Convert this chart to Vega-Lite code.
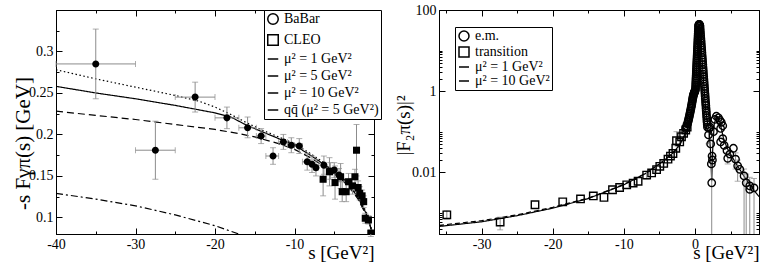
{
  "$schema": "https://vega.github.io/schema/vega-lite/v6.json",
  "background": "white",
  "padding": {"left": 11, "top": 2, "right": 2, "bottom": 0},
  "config": {
    "font": "Liberation Serif",
    "view": {"stroke": "black", "strokeWidth": 1},
    "axis": {"domainColor": "black", "tickColor": "black", "labelColor": "black", "titleColor": "black", "labelFont": "Liberation Serif", "titleFont": "Liberation Serif", "labelFontSize": 14, "titleFontSize": 20, "titleFontWeight": "normal", "grid": false, "labelPadding": 9, "labelFlush": false, "labelOverlap": false},
    "legend": {"labelFont": "Liberation Serif", "labelFontSize": 14, "labelColor": "black", "strokeColor": "black", "fillColor": "white", "padding": 2, "rowPadding": 2, "labelOffset": 4}
  },
  "resolve": {"scale": {"shape": "independent", "strokeDash": "independent", "x": "independent", "y": "independent"}, "legend": {"shape": "independent", "strokeDash": "independent"}},
  "datasets": {
    "left_lines": [
      {"series": "μ² = 1 GeV²", "s": -40, "v": 0.228}, {"series": "μ² = 1 GeV²", "s": -35, "v": 0.223}, {"series": "μ² = 1 GeV²", "s": -30, "v": 0.218}, {"series": "μ² = 1 GeV²", "s": -25, "v": 0.212}, {"series": "μ² = 1 GeV²", "s": -20, "v": 0.206}, {"series": "μ² = 1 GeV²", "s": -17, "v": 0.201}, {"series": "μ² = 1 GeV²", "s": -15, "v": 0.197}, {"series": "μ² = 1 GeV²", "s": -12, "v": 0.189}, {"series": "μ² = 1 GeV²", "s": -10, "v": 0.182}, {"series": "μ² = 1 GeV²", "s": -8, "v": 0.172}, {"series": "μ² = 1 GeV²", "s": -6, "v": 0.16}, {"series": "μ² = 1 GeV²", "s": -4, "v": 0.145}, {"series": "μ² = 1 GeV²", "s": -3, "v": 0.135}, {"series": "μ² = 1 GeV²", "s": -2, "v": 0.122}, {"series": "μ² = 1 GeV²", "s": -1, "v": 0.103}, {"series": "μ² = 1 GeV²", "s": -0.5, "v": 0.09}, {"series": "μ² = 1 GeV²", "s": -0.2, "v": 0.079},
      {"series": "μ² = 5 GeV²", "s": -40, "v": 0.258}, {"series": "μ² = 5 GeV²", "s": -35, "v": 0.25}, {"series": "μ² = 5 GeV²", "s": -30, "v": 0.243}, {"series": "μ² = 5 GeV²", "s": -25, "v": 0.235}, {"series": "μ² = 5 GeV²", "s": -20, "v": 0.226}, {"series": "μ² = 5 GeV²", "s": -18, "v": 0.221}, {"series": "μ² = 5 GeV²", "s": -16, "v": 0.211}, {"series": "μ² = 5 GeV²", "s": -14, "v": 0.203}, {"series": "μ² = 5 GeV²", "s": -12, "v": 0.195}, {"series": "μ² = 5 GeV²", "s": -10, "v": 0.187}, {"series": "μ² = 5 GeV²", "s": -8, "v": 0.175}, {"series": "μ² = 5 GeV²", "s": -6, "v": 0.162}, {"series": "μ² = 5 GeV²", "s": -4, "v": 0.147}, {"series": "μ² = 5 GeV²", "s": -3, "v": 0.137}, {"series": "μ² = 5 GeV²", "s": -2, "v": 0.124}, {"series": "μ² = 5 GeV²", "s": -1, "v": 0.105}, {"series": "μ² = 5 GeV²", "s": -0.5, "v": 0.091}, {"series": "μ² = 5 GeV²", "s": -0.15, "v": 0.079},
      {"series": "μ² = 10 GeV²", "s": -40, "v": 0.278}, {"series": "μ² = 10 GeV²", "s": -35, "v": 0.267}, {"series": "μ² = 10 GeV²", "s": -30, "v": 0.257}, {"series": "μ² = 10 GeV²", "s": -25, "v": 0.247}, {"series": "μ² = 10 GeV²", "s": -22, "v": 0.24}, {"series": "μ² = 10 GeV²", "s": -20, "v": 0.233}, {"series": "μ² = 10 GeV²", "s": -18, "v": 0.224}, {"series": "μ² = 10 GeV²", "s": -16, "v": 0.214}, {"series": "μ² = 10 GeV²", "s": -14, "v": 0.205}, {"series": "μ² = 10 GeV²", "s": -12, "v": 0.197}, {"series": "μ² = 10 GeV²", "s": -10, "v": 0.189}, {"series": "μ² = 10 GeV²", "s": -8, "v": 0.177}, {"series": "μ² = 10 GeV²", "s": -6, "v": 0.164}, {"series": "μ² = 10 GeV²", "s": -4, "v": 0.149}, {"series": "μ² = 10 GeV²", "s": -3, "v": 0.139}, {"series": "μ² = 10 GeV²", "s": -2, "v": 0.126}, {"series": "μ² = 10 GeV²", "s": -1, "v": 0.107}, {"series": "μ² = 10 GeV²", "s": -0.5, "v": 0.092}, {"series": "μ² = 10 GeV²", "s": -0.1, "v": 0.079},
      {"series": "qq̄ (μ² = 5 GeV²)", "s": -40, "v": 0.129}, {"series": "qq̄ (μ² = 5 GeV²)", "s": -35, "v": 0.122}, {"series": "qq̄ (μ² = 5 GeV²)", "s": -30, "v": 0.114}, {"series": "qq̄ (μ² = 5 GeV²)", "s": -25, "v": 0.103}, {"series": "qq̄ (μ² = 5 GeV²)", "s": -20, "v": 0.09}, {"series": "qq̄ (μ² = 5 GeV²)", "s": -17, "v": 0.08}
    ],
    "left_pts": [
      {"series": "BaBar", "s": -35, "v": 0.285, "ylo": 0.243, "yhi": 0.327, "xlo": -40, "xhi": -30},
      {"series": "BaBar", "s": -27.5, "v": 0.181, "ylo": 0.146, "yhi": 0.216, "xlo": -30, "xhi": -25},
      {"series": "BaBar", "s": -22.5, "v": 0.245, "ylo": 0.227, "yhi": 0.263, "xlo": -25, "xhi": -20},
      {"series": "BaBar", "s": -18.5, "v": 0.22, "ylo": 0.207, "yhi": 0.233, "xlo": -20, "xhi": -17},
      {"series": "BaBar", "s": -15.9, "v": 0.208, "ylo": 0.196, "yhi": 0.221, "xlo": -17, "xhi": -14.8},
      {"series": "BaBar", "s": -14.2, "v": 0.198, "ylo": 0.189, "yhi": 0.207, "xlo": -14.8, "xhi": -13.6},
      {"series": "BaBar", "s": -12.7, "v": 0.174, "ylo": 0.164, "yhi": 0.184, "xlo": -13.6, "xhi": -12},
      {"series": "BaBar", "s": -11.4, "v": 0.191, "ylo": 0.182, "yhi": 0.2, "xlo": -12, "xhi": -10.9},
      {"series": "BaBar", "s": -10.4, "v": 0.187, "ylo": 0.178, "yhi": 0.196, "xlo": -10.9, "xhi": -10},
      {"series": "BaBar", "s": -9.4, "v": 0.186, "ylo": 0.177, "yhi": 0.195, "xlo": -10, "xhi": -9},
      {"series": "BaBar", "s": -8.4, "v": 0.167, "ylo": 0.157, "yhi": 0.177, "xlo": -9, "xhi": -8},
      {"series": "BaBar", "s": -7.8, "v": 0.164, "ylo": 0.154, "yhi": 0.174, "xlo": -8, "xhi": -7.6},
      {"series": "BaBar", "s": -7.3, "v": 0.16, "ylo": 0.15, "yhi": 0.17, "xlo": -7.6, "xhi": -7},
      {"series": "BaBar", "s": -6.3, "v": 0.163, "ylo": 0.152, "yhi": 0.174, "xlo": -7, "xhi": -6},
      {"series": "BaBar", "s": -5.5, "v": 0.156, "ylo": 0.146, "yhi": 0.166, "xlo": -6, "xhi": -5.2},
      {"series": "BaBar", "s": -5.0, "v": 0.157, "ylo": 0.148, "yhi": 0.166, "xlo": -5.2, "xhi": -4.7},
      {"series": "BaBar", "s": -4.4, "v": 0.151, "ylo": 0.143, "yhi": 0.159, "xlo": -4.7, "xhi": -4.2},
      {"series": "CLEO", "s": -6.4, "v": 0.146, "ylo": 0.126, "yhi": 0.165},
      {"series": "CLEO", "s": -5.6, "v": 0.155, "ylo": 0.138, "yhi": 0.172},
      {"series": "CLEO", "s": -4.9, "v": 0.142, "ylo": 0.122, "yhi": 0.162},
      {"series": "CLEO", "s": -4.2, "v": 0.149, "ylo": 0.135, "yhi": 0.165},
      {"series": "CLEO", "s": -4.0, "v": 0.131, "ylo": 0.119, "yhi": 0.143},
      {"series": "CLEO", "s": -3.5, "v": 0.131, "ylo": 0.119, "yhi": 0.144},
      {"series": "CLEO", "s": -3.2, "v": 0.143, "ylo": 0.133, "yhi": 0.153},
      {"series": "CLEO", "s": -2.7, "v": 0.138, "ylo": 0.128, "yhi": 0.147},
      {"series": "CLEO", "s": -2.4, "v": 0.149, "ylo": 0.14, "yhi": 0.158},
      {"series": "CLEO", "s": -2.2, "v": 0.181, "ylo": 0.15, "yhi": 0.212},
      {"series": "CLEO", "s": -2.0, "v": 0.136, "ylo": 0.128, "yhi": 0.144},
      {"series": "CLEO", "s": -1.8, "v": 0.129, "ylo": 0.121, "yhi": 0.137},
      {"series": "CLEO", "s": -1.5, "v": 0.126, "ylo": 0.119, "yhi": 0.133},
      {"series": "CLEO", "s": -1.3, "v": 0.119, "ylo": 0.112, "yhi": 0.126},
      {"series": "CLEO", "s": -1.1, "v": 0.099, "ylo": 0.093, "yhi": 0.105},
      {"series": "CLEO", "s": -0.7, "v": 0.097, "ylo": 0.092, "yhi": 0.102},
      {"series": "CLEO", "s": -0.4, "v": 0.081, "ylo": 0.077, "yhi": 0.085}
    ],
    "right_lines": [
      {"series": "μ² = 1 GeV²", "s": -36, "v": 0.00046}, {"series": "μ² = 1 GeV²", "s": -30, "v": 0.0006}, {"series": "μ² = 1 GeV²", "s": -25, "v": 0.00085}, {"series": "μ² = 1 GeV²", "s": -20, "v": 0.0013}, {"series": "μ² = 1 GeV²", "s": -15, "v": 0.00225}, {"series": "μ² = 1 GeV²", "s": -10, "v": 0.0049}, {"series": "μ² = 1 GeV²", "s": -7, "v": 0.0092}, {"series": "μ² = 1 GeV²", "s": -4.5, "v": 0.0185}, {"series": "μ² = 1 GeV²", "s": -3, "v": 0.031}, {"series": "μ² = 1 GeV²", "s": -2, "v": 0.052}, {"series": "μ² = 1 GeV²", "s": -1, "v": 0.125}, {"series": "μ² = 1 GeV²", "s": -0.5, "v": 0.3}, {"series": "μ² = 1 GeV²", "s": 0, "v": 0.95}, {"series": "μ² = 1 GeV²", "s": 0.1, "v": 1.4}, {"series": "μ² = 1 GeV²", "s": 0.2, "v": 3}, {"series": "μ² = 1 GeV²", "s": 0.3, "v": 7}, {"series": "μ² = 1 GeV²", "s": 0.4, "v": 15}, {"series": "μ² = 1 GeV²", "s": 0.5, "v": 32}, {"series": "μ² = 1 GeV²", "s": 0.6, "v": 45}, {"series": "μ² = 1 GeV²", "s": 0.7, "v": 35}, {"series": "μ² = 1 GeV²", "s": 0.8, "v": 20}, {"series": "μ² = 1 GeV²", "s": 1.0, "v": 6}, {"series": "μ² = 1 GeV²", "s": 1.2, "v": 1.8}, {"series": "μ² = 1 GeV²", "s": 1.5, "v": 0.35}, {"series": "μ² = 1 GeV²", "s": 1.8, "v": 0.15}, {"series": "μ² = 1 GeV²", "s": 2.0, "v": 0.1}, {"series": "μ² = 1 GeV²", "s": 2.2, "v": 0.03}, {"series": "μ² = 1 GeV²", "s": 2.35, "v": 0.006}, {"series": "μ² = 1 GeV²", "s": 2.5, "v": 0.04}, {"series": "μ² = 1 GeV²", "s": 2.7, "v": 0.15}, {"series": "μ² = 1 GeV²", "s": 3.0, "v": 0.24}, {"series": "μ² = 1 GeV²", "s": 3.5, "v": 0.17}, {"series": "μ² = 1 GeV²", "s": 4.0, "v": 0.07}, {"series": "μ² = 1 GeV²", "s": 4.5, "v": 0.04}, {"series": "μ² = 1 GeV²", "s": 5.0, "v": 0.028}, {"series": "μ² = 1 GeV²", "s": 6.0, "v": 0.014}, {"series": "μ² = 1 GeV²", "s": 7.0, "v": 0.0075}, {"series": "μ² = 1 GeV²", "s": 8.0, "v": 0.0042}, {"series": "μ² = 1 GeV²", "s": 9.0, "v": 0.0025},
      {"series": "μ² = 10 GeV²", "s": -36, "v": 0.00049}, {"series": "μ² = 10 GeV²", "s": -30, "v": 0.00064}, {"series": "μ² = 10 GeV²", "s": -25, "v": 0.00089}, {"series": "μ² = 10 GeV²", "s": -20, "v": 0.00136}, {"series": "μ² = 10 GeV²", "s": -15, "v": 0.0023}, {"series": "μ² = 10 GeV²", "s": -10, "v": 0.005}, {"series": "μ² = 10 GeV²", "s": -7, "v": 0.0093}, {"series": "μ² = 10 GeV²", "s": -4.5, "v": 0.0187}, {"series": "μ² = 10 GeV²", "s": -3, "v": 0.031}, {"series": "μ² = 10 GeV²", "s": -2, "v": 0.052}, {"series": "μ² = 10 GeV²", "s": -1, "v": 0.125}, {"series": "μ² = 10 GeV²", "s": -0.5, "v": 0.3}, {"series": "μ² = 10 GeV²", "s": 0, "v": 0.95}
    ],
    "right_pts": [
      {"series": "transition", "s": -34.9, "v": 0.00089, "ylo": 0.0007, "yhi": 0.00112},
      {"series": "transition", "s": -27.4, "v": 0.00059, "ylo": 0.00038, "yhi": 0.00078},
      {"series": "transition", "s": -22.5, "v": 0.00158},
      {"series": "transition", "s": -18.6, "v": 0.00186},
      {"series": "transition", "s": -16.1, "v": 0.0022},
      {"series": "transition", "s": -14.3, "v": 0.0026},
      {"series": "transition", "s": -12.8, "v": 0.0024},
      {"series": "transition", "s": -11.6, "v": 0.0037},
      {"series": "transition", "s": -10.6, "v": 0.0042},
      {"series": "transition", "s": -9.6, "v": 0.0049},
      {"series": "transition", "s": -8.7, "v": 0.0054},
      {"series": "transition", "s": -8.0, "v": 0.006},
      {"series": "transition", "s": -6.8, "v": 0.0085, "ylo": 0.0068, "yhi": 0.0105},
      {"series": "transition", "s": -6.1, "v": 0.0096},
      {"series": "transition", "s": -5.4, "v": 0.0116, "ylo": 0.0095, "yhi": 0.014},
      {"series": "transition", "s": -4.95, "v": 0.014},
      {"series": "transition", "s": -4.4, "v": 0.0165, "ylo": 0.0135, "yhi": 0.02},
      {"series": "transition", "s": -3.8, "v": 0.021},
      {"series": "transition", "s": -3.45, "v": 0.025},
      {"series": "transition", "s": -3.1, "v": 0.029},
      {"series": "transition", "s": -2.7, "v": 0.039},
      {"series": "transition", "s": -2.6, "v": 0.06, "ylo": 0.045, "yhi": 0.1},
      {"series": "transition", "s": -2.15, "v": 0.056},
      {"series": "transition", "s": -1.9, "v": 0.075},
      {"series": "transition", "s": -1.6, "v": 0.091},
      {"series": "transition", "s": -1.3, "v": 0.11},
      {"series": "transition", "s": -1.1, "v": 0.13},
      {"series": "e.m.", "s": -1.3, "v": 0.12}, {"series": "e.m.", "s": -1.22, "v": 0.13}, {"series": "e.m.", "s": -1.15, "v": 0.14}, {"series": "e.m.", "s": -1.07, "v": 0.155}, {"series": "e.m.", "s": -1.0, "v": 0.17}, {"series": "e.m.", "s": -0.95, "v": 0.185}, {"series": "e.m.", "s": -0.9, "v": 0.2}, {"series": "e.m.", "s": -0.85, "v": 0.22}, {"series": "e.m.", "s": -0.8, "v": 0.24}, {"series": "e.m.", "s": -0.75, "v": 0.265}, {"series": "e.m.", "s": -0.7, "v": 0.29}, {"series": "e.m.", "s": -0.65, "v": 0.32}, {"series": "e.m.", "s": -0.6, "v": 0.35}, {"series": "e.m.", "s": -0.55, "v": 0.39}, {"series": "e.m.", "s": -0.5, "v": 0.43}, {"series": "e.m.", "s": -0.46, "v": 0.47}, {"series": "e.m.", "s": -0.42, "v": 0.52}, {"series": "e.m.", "s": -0.38, "v": 0.57}, {"series": "e.m.", "s": -0.35, "v": 0.62}, {"series": "e.m.", "s": -0.31, "v": 0.67}, {"series": "e.m.", "s": -0.28, "v": 0.72}, {"series": "e.m.", "s": -0.24, "v": 0.77}, {"series": "e.m.", "s": -0.2, "v": 0.82}, {"series": "e.m.", "s": -0.16, "v": 0.86}, {"series": "e.m.", "s": -0.12, "v": 0.9}, {"series": "e.m.", "s": -0.08, "v": 0.94}, {"series": "e.m.", "s": -0.05, "v": 0.97}, {"series": "e.m.", "s": 0.0, "v": 1.0}, {"series": "e.m.", "s": 0.04, "v": 1.07},
      {"series": "e.m.", "s": 0.075, "v": 1.15}, {"series": "e.m.", "s": 0.0875, "v": 1.28}, {"series": "e.m.", "s": 0.1, "v": 1.42}, {"series": "e.m.", "s": 0.1125, "v": 1.58}, {"series": "e.m.", "s": 0.125, "v": 1.75}, {"series": "e.m.", "s": 0.1375, "v": 1.94}, {"series": "e.m.", "s": 0.15, "v": 2.15}, {"series": "e.m.", "s": 0.1625, "v": 2.39}, {"series": "e.m.", "s": 0.175, "v": 2.65}, {"series": "e.m.", "s": 0.1875, "v": 2.94}, {"series": "e.m.", "s": 0.2, "v": 3.25}, {"series": "e.m.", "s": 0.2125, "v": 3.6}, {"series": "e.m.", "s": 0.225, "v": 4.0}, {"series": "e.m.", "s": 0.2375, "v": 4.43}, {"series": "e.m.", "s": 0.25, "v": 4.9}, {"series": "e.m.", "s": 0.2625, "v": 5.43}, {"series": "e.m.", "s": 0.275, "v": 6.0}, {"series": "e.m.", "s": 0.2875, "v": 6.66}, {"series": "e.m.", "s": 0.3, "v": 7.4}, {"series": "e.m.", "s": 0.3125, "v": 8.2}, {"series": "e.m.", "s": 0.325, "v": 9.1}, {"series": "e.m.", "s": 0.3375, "v": 10.1}, {"series": "e.m.", "s": 0.35, "v": 11.2}, {"series": "e.m.", "s": 0.3625, "v": 12.4}, {"series": "e.m.", "s": 0.375, "v": 13.8}, {"series": "e.m.", "s": 0.3875, "v": 15.3}, {"series": "e.m.", "s": 0.4, "v": 17}, {"series": "e.m.", "s": 0.4125, "v": 18.9}, {"series": "e.m.", "s": 0.425, "v": 21}, {"series": "e.m.", "s": 0.4375, "v": 23.4}, {"series": "e.m.", "s": 0.45, "v": 26}, {"series": "e.m.", "s": 0.4625, "v": 28.9}, {"series": "e.m.", "s": 0.475, "v": 32}, {"series": "e.m.", "s": 0.4875, "v": 35.3}, {"series": "e.m.", "s": 0.5, "v": 39}, {"series": "e.m.", "s": 0.525, "v": 41.5}, {"series": "e.m.", "s": 0.55, "v": 43}, {"series": "e.m.", "s": 0.575, "v": 44}, {"series": "e.m.", "s": 0.6, "v": 44}, {"series": "e.m.", "s": 0.625, "v": 43}, {"series": "e.m.", "s": 0.65, "v": 42}, {"series": "e.m.", "s": 0.675, "v": 41},
      {"series": "e.m.", "s": 0.7, "v": 40}, {"series": "e.m.", "s": 0.725, "v": 35}, {"series": "e.m.", "s": 0.75, "v": 30.4}, {"series": "e.m.", "s": 0.775, "v": 26.5}, {"series": "e.m.", "s": 0.8, "v": 23}, {"series": "e.m.", "s": 0.825, "v": 20.1}, {"series": "e.m.", "s": 0.85, "v": 17.6}, {"series": "e.m.", "s": 0.875, "v": 15.4}, {"series": "e.m.", "s": 0.9, "v": 13.4}, {"series": "e.m.", "s": 0.925, "v": 11.7}, {"series": "e.m.", "s": 0.95, "v": 10.2}, {"series": "e.m.", "s": 0.975, "v": 8.9}, {"series": "e.m.", "s": 1.0, "v": 7.7}, {"series": "e.m.", "s": 1.025, "v": 6.7}, {"series": "e.m.", "s": 1.05, "v": 5.9}, {"series": "e.m.", "s": 1.075, "v": 5.2}, {"series": "e.m.", "s": 1.1, "v": 4.5}, {"series": "e.m.", "s": 1.125, "v": 3.9}, {"series": "e.m.", "s": 1.15, "v": 3.4}, {"series": "e.m.", "s": 1.175, "v": 3.0}, {"series": "e.m.", "s": 1.2, "v": 2.6}, {"series": "e.m.", "s": 1.225, "v": 2.26}, {"series": "e.m.", "s": 1.25, "v": 1.97}, {"series": "e.m.", "s": 1.275, "v": 1.72}, {"series": "e.m.", "s": 1.3, "v": 1.5}, {"series": "e.m.", "s": 1.325, "v": 1.31}, {"series": "e.m.", "s": 1.35, "v": 1.14}, {"series": "e.m.", "s": 1.375, "v": 1.0}, {"series": "e.m.", "s": 1.4, "v": 0.87}, {"series": "e.m.", "s": 1.425, "v": 0.76}, {"series": "e.m.", "s": 1.45, "v": 0.66}, {"series": "e.m.", "s": 1.475, "v": 0.57}, {"series": "e.m.", "s": 1.5, "v": 0.5}, {"series": "e.m.", "s": 1.525, "v": 0.44}, {"series": "e.m.", "s": 1.55, "v": 0.38}, {"series": "e.m.", "s": 1.575, "v": 0.33}, {"series": "e.m.", "s": 1.6, "v": 0.29}, {"series": "e.m.", "s": 1.625, "v": 0.25}, {"series": "e.m.", "s": 1.65, "v": 0.22}, {"series": "e.m.", "s": 1.675, "v": 0.19}, {"series": "e.m.", "s": 1.7, "v": 0.17}, {"series": "e.m.", "s": 1.725, "v": 0.15}, {"series": "e.m.", "s": 1.75, "v": 0.13},
      {"series": "e.m.", "s": 1.9, "v": 0.083, "ylo": 0.05, "yhi": 0.12}, {"series": "e.m.", "s": 2.0, "v": 0.12}, {"series": "e.m.", "s": 2.1, "v": 0.13}, {"series": "e.m.", "s": 2.2, "v": 0.05}, {"series": "e.m.", "s": 2.3, "v": 0.016}, {"series": "e.m.", "s": 2.35, "v": 0.0055, "ylo": 0.0002, "yhi": 0.025}, {"series": "e.m.", "s": 2.4, "v": 0.025}, {"series": "e.m.", "s": 2.45, "v": 0.02}, {"series": "e.m.", "s": 2.6, "v": 0.1}, {"series": "e.m.", "s": 2.8, "v": 0.2}, {"series": "e.m.", "s": 3.0, "v": 0.24}, {"series": "e.m.", "s": 3.3, "v": 0.22}, {"series": "e.m.", "s": 3.5, "v": 0.19}, {"series": "e.m.", "s": 3.6, "v": 0.12}, {"series": "e.m.", "s": 3.7, "v": 0.17}, {"series": "e.m.", "s": 3.9, "v": 0.14}, {"series": "e.m.", "s": 3.9, "v": 0.067}, {"series": "e.m.", "s": 3.6, "v": 0.056}, {"series": "e.m.", "s": 4.1, "v": 0.046}, {"series": "e.m.", "s": 4.5, "v": 0.034}, {"series": "e.m.", "s": 4.9, "v": 0.028}, {"series": "e.m.", "s": 4.6, "v": 0.022, "ylo": 0.016, "yhi": 0.03}, {"series": "e.m.", "s": 5.4, "v": 0.039}, {"series": "e.m.", "s": 5.7, "v": 0.021, "ylo": 0.012, "yhi": 0.03}, {"series": "e.m.", "s": 6.0, "v": 0.0144, "ylo": 0.006, "yhi": 0.02}, {"series": "e.m.", "s": 6.3, "v": 0.0118}, {"series": "e.m.", "s": 6.9, "v": 0.0081, "ylo": 0.0002, "yhi": 0.012}, {"series": "e.m.", "s": 7.2, "v": 0.0055, "ylo": 0.0002, "yhi": 0.009}, {"series": "e.m.", "s": 7.7, "v": 0.0046, "ylo": 0.0002, "yhi": 0.0075}, {"series": "e.m.", "s": 8.3, "v": 0.0041, "ylo": 0.0002, "yhi": 0.007}, {"series": "e.m.", "s": 7.7, "v": 0.0038}
    ]
  },
  "spacing": 11,
  "hconcat": [
    {
      "width": 318,
      "height": 224,
      "resolve": {"axis": {"x": "independent", "y": "independent"}},
      "layer": [
        {
          "data": {"name": "left_lines"},
          "mark": {"type": "line", "color": "black", "strokeWidth": 1.2, "clip": true},
          "encoding": {
            "x": {"field": "s", "type": "quantitative", "scale": {"domain": [-40, 0], "nice": false, "zero": false},
              "axis": {"orient": "bottom", "values": [-40, -35, -30, -25, -20, -15, -10, -5, 0], "labelExpr": "datum.value % 10 == 0 && datum.value != 0 ? '' + datum.value : ''", "tickSize": {"condition": {"test": "datum.value % 10 != 0", "value": -3}, "value": -6}, "labelPadding": 9, "labelOverlap": false, "title": "s [GeV²]", "titleFontSize": 19, "titleAlign": "right", "titleBaseline": "alphabetic", "titleX": 318, "titleY": 24}},
            "y": {"field": "v", "type": "quantitative", "scale": {"domain": [0.08, 0.35], "nice": false, "zero": false},
              "axis": {"orient": "left", "values": [0.1, 0.125, 0.15, 0.175, 0.2, 0.225, 0.25, 0.275, 0.3, 0.325], "labelExpr": "abs(datum.value*20 - round(datum.value*20)) < 0.001 ? '' + datum.value : ''", "tickSize": {"condition": {"test": "abs(datum.value*20 - round(datum.value*20)) > 0.001", "value": -3}, "value": -6}, "labelPadding": 9, "labelOverlap": false, "title": "-s Fγπ(s) [GeV]", "titleFontSize": 21, "titleY": 133, "titleX": -33, "titleBaseline": "middle", "titleAlign": "center"}},
            "detail": {"field": "series"},
            "strokeDash": {"field": "series", "type": "nominal", "scale": {"domain": ["μ² = 1 GeV²", "μ² = 5 GeV²", "μ² = 10 GeV²", "qq̄ (μ² = 5 GeV²)"], "range": [[7, 4], [1, 0], [1.5, 2.5], [7, 3, 2, 3]]}, "legend": null}
          }
        },
        {
          "data": {"name": "left_pts"},
          "mark": {"type": "errorbar", "ticks": {"size": 6}, "color": "#8c8c8c", "thickness": 1},
          "encoding": {
            "x": {"field": "s", "type": "quantitative", "axis": null},
            "y": {"field": "ylo", "type": "quantitative", "axis": null},
            "y2": {"field": "yhi"}
          }
        },
        {
          "data": {"name": "left_pts"},
          "transform": [{"filter": "isValid(datum.xlo)"}],
          "mark": {"type": "errorbar", "ticks": {"size": 6}, "color": "#8c8c8c", "thickness": 1},
          "encoding": {
            "y": {"field": "v", "type": "quantitative", "axis": null},
            "x": {"field": "xlo", "type": "quantitative", "axis": null},
            "x2": {"field": "xhi"}
          }
        },
        {
          "data": {"name": "left_pts"},
          "mark": {"type": "point", "filled": false, "color": "black", "strokeWidth": 3.6, "size": 12, "opacity": 1, "clip": true},
          "encoding": {
            "x": {"field": "s", "type": "quantitative",
              "axis": {"orient": "top", "values": [-40, -35, -30, -25, -20, -15, -10, -5, 0], "labels": false, "title": null, "tickSize": {"condition": {"test": "datum.value % 10 != 0", "value": -3}, "value": -6}}},
            "y": {"field": "v", "type": "quantitative",
              "axis": {"orient": "right", "values": [0.1, 0.125, 0.15, 0.175, 0.2, 0.225, 0.25, 0.275, 0.3, 0.325], "labels": false, "title": null, "tickSize": {"condition": {"test": "abs(datum.value*20 - round(datum.value*20)) > 0.001", "value": -3}, "value": -6}}},
            "shape": {"field": "series", "type": "nominal",
              "scale": {"domain": ["BaBar", "CLEO", "μ² = 1 GeV²", "μ² = 5 GeV²", "μ² = 10 GeV²", "qq̄ (μ² = 5 GeV²)"], "range": ["circle", "square", "stroke", "stroke", "stroke", "stroke"]},
              "legend": {"title": null, "orient": "none", "legendX": 208, "legendY": 0, "symbolSize": 110, "labelFontSize": 14, "rowPadding": 3, "padding": 2, "labelOffset": 4}}
          }
        }
      ]
    },
    {
      "width": 320,
      "height": 224,
      "resolve": {"axis": {"x": "independent", "y": "independent"}},
      "layer": [
        {
          "data": {"name": "right_lines"},
          "mark": {"type": "line", "color": "black", "strokeWidth": 1.2, "clip": true},
          "encoding": {
            "x": {"field": "s", "type": "quantitative", "scale": {"domain": [-36, 9], "nice": false, "zero": false},
              "axis": {"orient": "bottom", "values": [-35, -30, -25, -20, -15, -10, -5, 0, 5], "labelExpr": "datum.value % 10 == 0 ? '' + datum.value : ''", "tickSize": {"condition": {"test": "datum.value % 10 != 0", "value": -3}, "value": -6}, "labelPadding": 9, "labelOverlap": false, "title": "s [GeV²]", "titleFontSize": 19, "titleAlign": "right", "titleBaseline": "alphabetic", "titleX": 320, "titleY": 24}},
            "y": {"field": "v", "type": "quantitative", "scale": {"type": "log", "domain": [0.0003, 100], "nice": false},
              "axis": {"orient": "left", "values": [0.0003, 0.0004, 0.0005, 0.0006, 0.0007, 0.0008, 0.0009, 0.001, 0.01, 0.02, 0.03, 0.04, 0.05, 0.06, 0.07, 0.08, 0.09, 0.1, 1, 2, 3, 4, 5, 6, 7, 8, 9, 10, 100], "labelExpr": "datum.value == 0.01 || datum.value == 1 || datum.value == 100 ? '' + datum.value : ''", "labelFontSize": {"condition": {"test": "datum.value == 0.01 || datum.value == 1 || datum.value == 100", "value": 14}, "value": 0}, "tickSize": {"condition": {"test": "!(datum.value == 0.01 || datum.value == 1 || datum.value == 100)", "value": -3}, "value": -6}, "labelPadding": 9, "labelOverlap": false, "title": "|F₂π(s)|²", "titleFontSize": 19, "titleY": 115, "titleX": -36, "titleBaseline": "middle", "titleAlign": "center"}},
            "detail": {"field": "series"},
            "strokeDash": {"field": "series", "type": "nominal", "scale": {"domain": ["μ² = 1 GeV²", "μ² = 10 GeV²"], "range": [[1, 0], [5, 3]]}, "legend": null}
          }
        },
        {
          "data": {"name": "right_pts"},
          "transform": [{"filter": "isValid(datum.ylo)"}],
          "mark": {"type": "errorbar", "ticks": {"size": 6}, "color": "#8c8c8c", "thickness": 1, "clip": true},
          "encoding": {
            "x": {"field": "s", "type": "quantitative", "axis": null},
            "y": {"field": "ylo", "type": "quantitative", "axis": null},
            "y2": {"field": "yhi"}
          }
        },
        {
          "data": {"name": "right_pts"},
          "mark": {"type": "point", "filled": false, "color": "black", "size": 55, "strokeWidth": 1.4, "opacity": 1, "clip": true},
          "encoding": {
            "x": {"field": "s", "type": "quantitative",
              "axis": {"orient": "top", "values": [-35, -30, -25, -20, -15, -10, -5, 0, 5], "labels": false, "title": null, "tickSize": {"condition": {"test": "datum.value % 10 != 0", "value": -3}, "value": -6}}},
            "y": {"field": "v", "type": "quantitative",
              "axis": {"orient": "right", "values": [0.0003, 0.0004, 0.0005, 0.0006, 0.0007, 0.0008, 0.0009, 0.001, 0.01, 0.02, 0.03, 0.04, 0.05, 0.06, 0.07, 0.08, 0.09, 0.1, 1, 2, 3, 4, 5, 6, 7, 8, 9, 10, 100], "labels": false, "title": null, "tickSize": {"condition": {"test": "!(datum.value == 0.01 || datum.value == 1 || datum.value == 100)", "value": -3}, "value": -6}}},
            "shape": {"field": "series", "type": "nominal",
              "scale": {"domain": ["e.m.", "transition", "μ² = 1 GeV²", "μ² = 10 GeV²"], "range": ["circle", "square", "stroke", "stroke"]},
              "legend": {"title": null, "orient": "none", "legendX": 16, "legendY": 17, "symbolSize": 100, "labelFontSize": 14, "rowPadding": 0, "padding": 2, "labelOffset": 4}}
          }
        }
      ]
    }
  ]
}
